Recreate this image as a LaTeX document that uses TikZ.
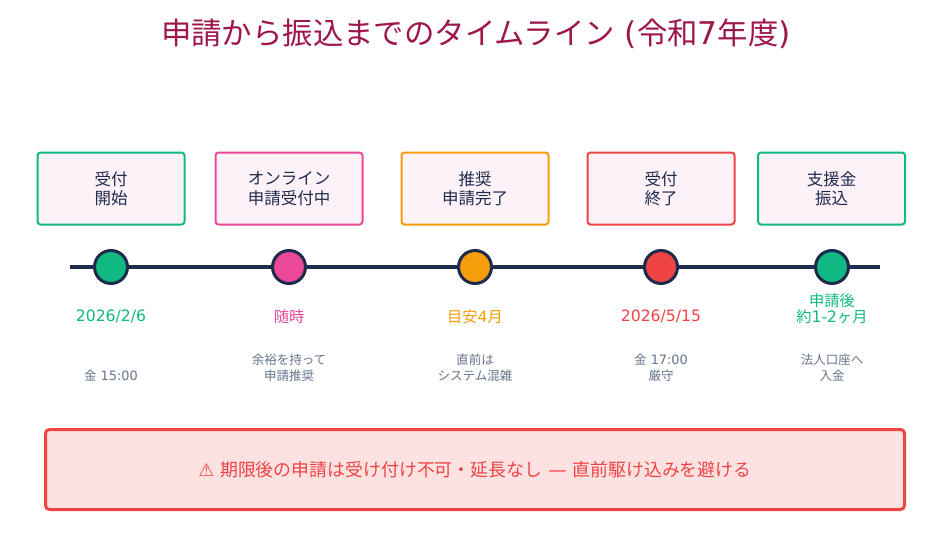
\documentclass[tikz,border=0pt]{standalone}
\usepackage{fontspec}
\setmainfont{Noto Sans CJK JP}
\newfontfamily\ltnfont[Scale=1.03]{DejaVu Sans}
\newfontfamily\symfont{DejaVu Sans}
\newcommand{\ltn}[1]{{\ltnfont #1}}
\definecolor{cgreen}{HTML}{10B981}
\definecolor{cpink}{HTML}{EC4899}
\definecolor{corange}{HTML}{F59E0B}
\definecolor{cred}{HTML}{EF4444}
\definecolor{cnavy}{HTML}{1E2B4D}
\definecolor{cgray}{HTML}{64748B}
\definecolor{cbox}{HTML}{FDF2F8}
\definecolor{cbanner}{HTML}{FEE2E2}
\definecolor{ctitle}{HTML}{9D174D}
\tikzset{
  x=1pt,y=-1pt,
  stagebox/.style={draw=#1,fill=cbox,line width=2pt,rounded corners=3pt,minimum width=147pt,minimum height=72pt,inner sep=0pt,align=center,text=cnavy,font=\fontsize{16.5}{19.5}\selectfont},
  dot/.style={circle,draw=cnavy,fill=#1,line width=3pt,minimum size=33pt,inner sep=0pt},
  datelabel/.style={text=#1,align=center,inner sep=0pt,font=\fontsize{15.2}{16}\selectfont},
  note/.style={text=cgray,align=center,inner sep=0pt,font=\fontsize{12.5}{15.7}\selectfont},
}
\begin{document}
\begin{tikzpicture}
\useasboundingbox (0,0) rectangle (950,539);
\fill[white] (0,0) rectangle (950,539);
\node[text=ctitle,inner sep=0pt,font=\fontsize{30.4}{36}\selectfont] (title) at (476,33.5) {申請から振込までのタイムライン\ltn{ (}令和\ltn{7}年度\ltn{)}};
\coordinate (start) at (70,267);
\coordinate (end) at (880,267);
\draw[cnavy,line width=4.5pt] (start) -- (end);
\node[stagebox=cgreen] (b1) at (111,188.5) {\raisebox{-0.5pt}{受付}\\\raisebox{-0.5pt}{開始}};
\node[stagebox=cpink] (b2) at (289,188.5) {\raisebox{-0.5pt}{オンライン}\\\raisebox{-0.5pt}{申請受付中}};
\node[stagebox=corange] (b3) at (475,188.5) {\raisebox{-0.5pt}{推奨}\\\raisebox{-0.5pt}{申請完了}};
\node[stagebox=cred] (b4) at (661,188.5) {\raisebox{-0.5pt}{受付}\\\raisebox{-0.5pt}{終了}};
\node[stagebox=cgreen] (b5) at (831.5,188.5) {\raisebox{-0.5pt}{支援金}\\\raisebox{-0.5pt}{振込}};
\node[dot=cgreen] (d1) at (111,267) {};
\node[dot=cpink] (d2) at (289,267) {};
\node[dot=corange] (d3) at (475,267) {};
\node[dot=cred] (d4) at (661,267) {};
\node[dot=cgreen] (d5) at (832,267) {};
\node[datelabel=cgreen] (t1) at (111,316.5) {\ltn{2026/2/6}};
\node[datelabel=cpink] (t2) at (289,316.5) {随時};
\node[datelabel=corange] (t3) at (475,316.5) {目安\ltn{4}月};
\node[datelabel=cred] (t4) at (661,316.5) {\ltn{2026/5/15}};
\node[datelabel=cgreen] (t5) at (832,309) {申請後\\約\ltn{1-2}ヶ月};
\node[note] (n1) at (111,375.5) {金\ltn{ 15:00}};
\node[note] (n2) at (289,368) {余裕を持って\\申請推奨};
\node[note] (n3) at (475,368) {直前は\\システム混雑};
\node[note] (n4) at (661,368) {金\ltn{ 17:00}\\厳守};
\node[note] (n5) at (832,368) {法人口座へ\\入金};
\node[draw=cred,fill=cbanner,line width=3pt,rounded corners=4pt,minimum width=859pt,minimum height=80pt,inner sep=0pt,text=cred,font=\fontsize{17.9}{20}\selectfont] (banner) at (475,469.5) {{\symfont ⚠ }期限後の申請は受け付け不可・延長なし\ltn{ — }直前駆け込みを避ける};
\end{tikzpicture}
\end{document}
